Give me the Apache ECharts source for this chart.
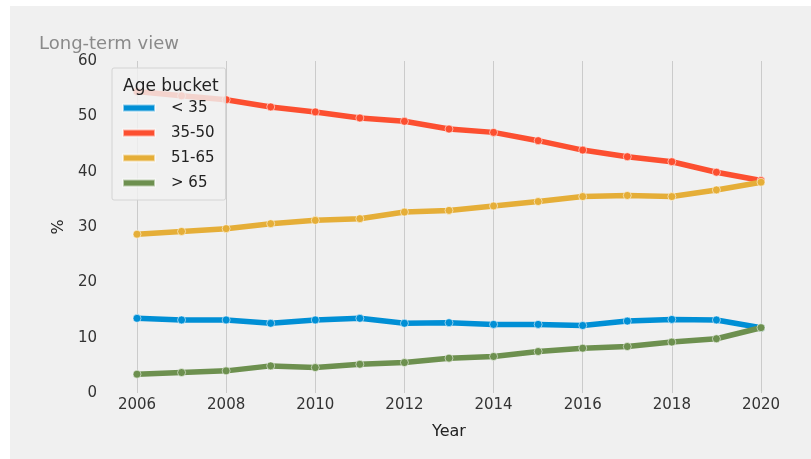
<!DOCTYPE html>
<html>
<head>
<meta charset="utf-8">
<script src="https://cdn.jsdelivr.net/npm/echarts@6/dist/echarts.min.js"></script>
<style>
html,body{margin:0;padding:0;background:#ffffff;}
#c{width:811px;height:459px;}
</style>
</head>
<body>
<div id="c"></div>
<script>
const years = [2006,2007,2008,2009,2010,2011,2012,2013,2014,2015,2016,2017,2018,2019,2020];
const seriesNames = ['< 35','35-50','51-65','> 65'];
const under35 = [13.5,13.2,13.2,12.6,13.2,13.5,12.6,12.7,12.4,12.4,12.2,13.0,13.3,13.2,11.8];
const age35to50 = [54.5,53.7,53.0,51.7,50.8,49.7,49.1,47.7,47.1,45.6,43.9,42.7,41.8,39.9,38.4];
const age51to65 = [28.7,29.2,29.7,30.6,31.2,31.5,32.7,33.0,33.8,34.6,35.5,35.7,35.5,36.7,38.1];
const over65 = [3.4,3.7,4.0,4.9,4.6,5.2,5.5,6.3,6.6,7.5,8.1,8.4,9.2,9.8,11.8];
const colors = ['#008fd5','#fc4f30','#e5ae38','#6d904f'];
const allValues = [under35, age35to50, age51to65, over65];

const chart = echarts.init(document.getElementById('c'), null, {renderer:'canvas'});
const font = 'DejaVu Sans';
const series = allValues.map((vals, i) => ({
  name: seriesNames[i],
  type: 'line',
  data: years.map((y, k) => [y, vals[k]]),
  symbol: 'circle',
  symbolSize: 8,
  clip: false,
  z: 2 + i,
  lineStyle: {color: colors[i], width: 5.5},
  itemStyle: {color: colors[i], borderColor: 'rgba(255,255,255,0.55)', borderWidth: 1},
  emphasis: {disabled: true}
}));

chart.setOption({
  animation: false,
  backgroundColor: '#f0f0f0',
  color: colors,
  graphic: [
    {type:'rect', shape:{x:0,y:0,width:811,height:6}, style:{fill:'#ffffff'}, z:100},
    {type:'rect', shape:{x:0,y:0,width:10,height:459}, style:{fill:'#ffffff'}, z:100}
  ],
  title: [
    {text: 'Long-term view', left: 34, top: 30,
     textStyle: {fontFamily: font, fontSize: 18, fontWeight: 'normal', color: '#8a8a8a'}},
    {text: 'Age bucket', left: 118, top: 73, z: 20,
     textStyle: {fontFamily: font, fontSize: 17, fontWeight: 'normal', color: '#222'}}
  ],
  legend: {
    orient: 'vertical',
    left: 112, top: 68,
    z: 15,
    data: seriesNames,
    icon: 'rect',
    itemWidth: 32, itemHeight: 7,
    itemGap: 7,
    padding: [31, 11, 8, 10],
    backgroundColor: 'rgba(240,240,240,0.82)',
    borderColor: '#d4d4d4', borderWidth: 1,
    borderRadius: 2,
    selectedMode: false,
    textStyle: {fontFamily: font, fontSize: 15, color: '#222', lineHeight: 18, padding: [0,0,0,11]}
  },
  grid: {left: 137, right: 50, top: 61, bottom: 66},
  xAxis: {
    type: 'value', min: 2006, max: 2020, interval: 2,
    name: 'Year', nameLocation: 'middle', nameGap: 31,
    nameTextStyle: {fontFamily: font, fontSize: 16, color: '#222'},
    axisLine: {show: false}, axisTick: {show: false},
    axisLabel: {fontFamily: font, fontSize: 15, color: '#333', margin: 5, formatter: v => String(v)},
    splitLine: {show: true, lineStyle: {color: '#cbcbcb', width: 1}}
  },
  yAxis: {
    type: 'value', min: 0, max: 60, interval: 10,
    name: '%', nameLocation: 'middle', nameGap: 70, nameRotate: 90,
    nameTextStyle: {fontFamily: font, fontSize: 16, color: '#222'},
    axisLine: {show: false}, axisTick: {show: false},
    axisLabel: {fontFamily: font, fontSize: 15, color: '#333', margin: 40},
    splitLine: {show: false}
  },
  series: series
});
</script>
</body>
</html>
